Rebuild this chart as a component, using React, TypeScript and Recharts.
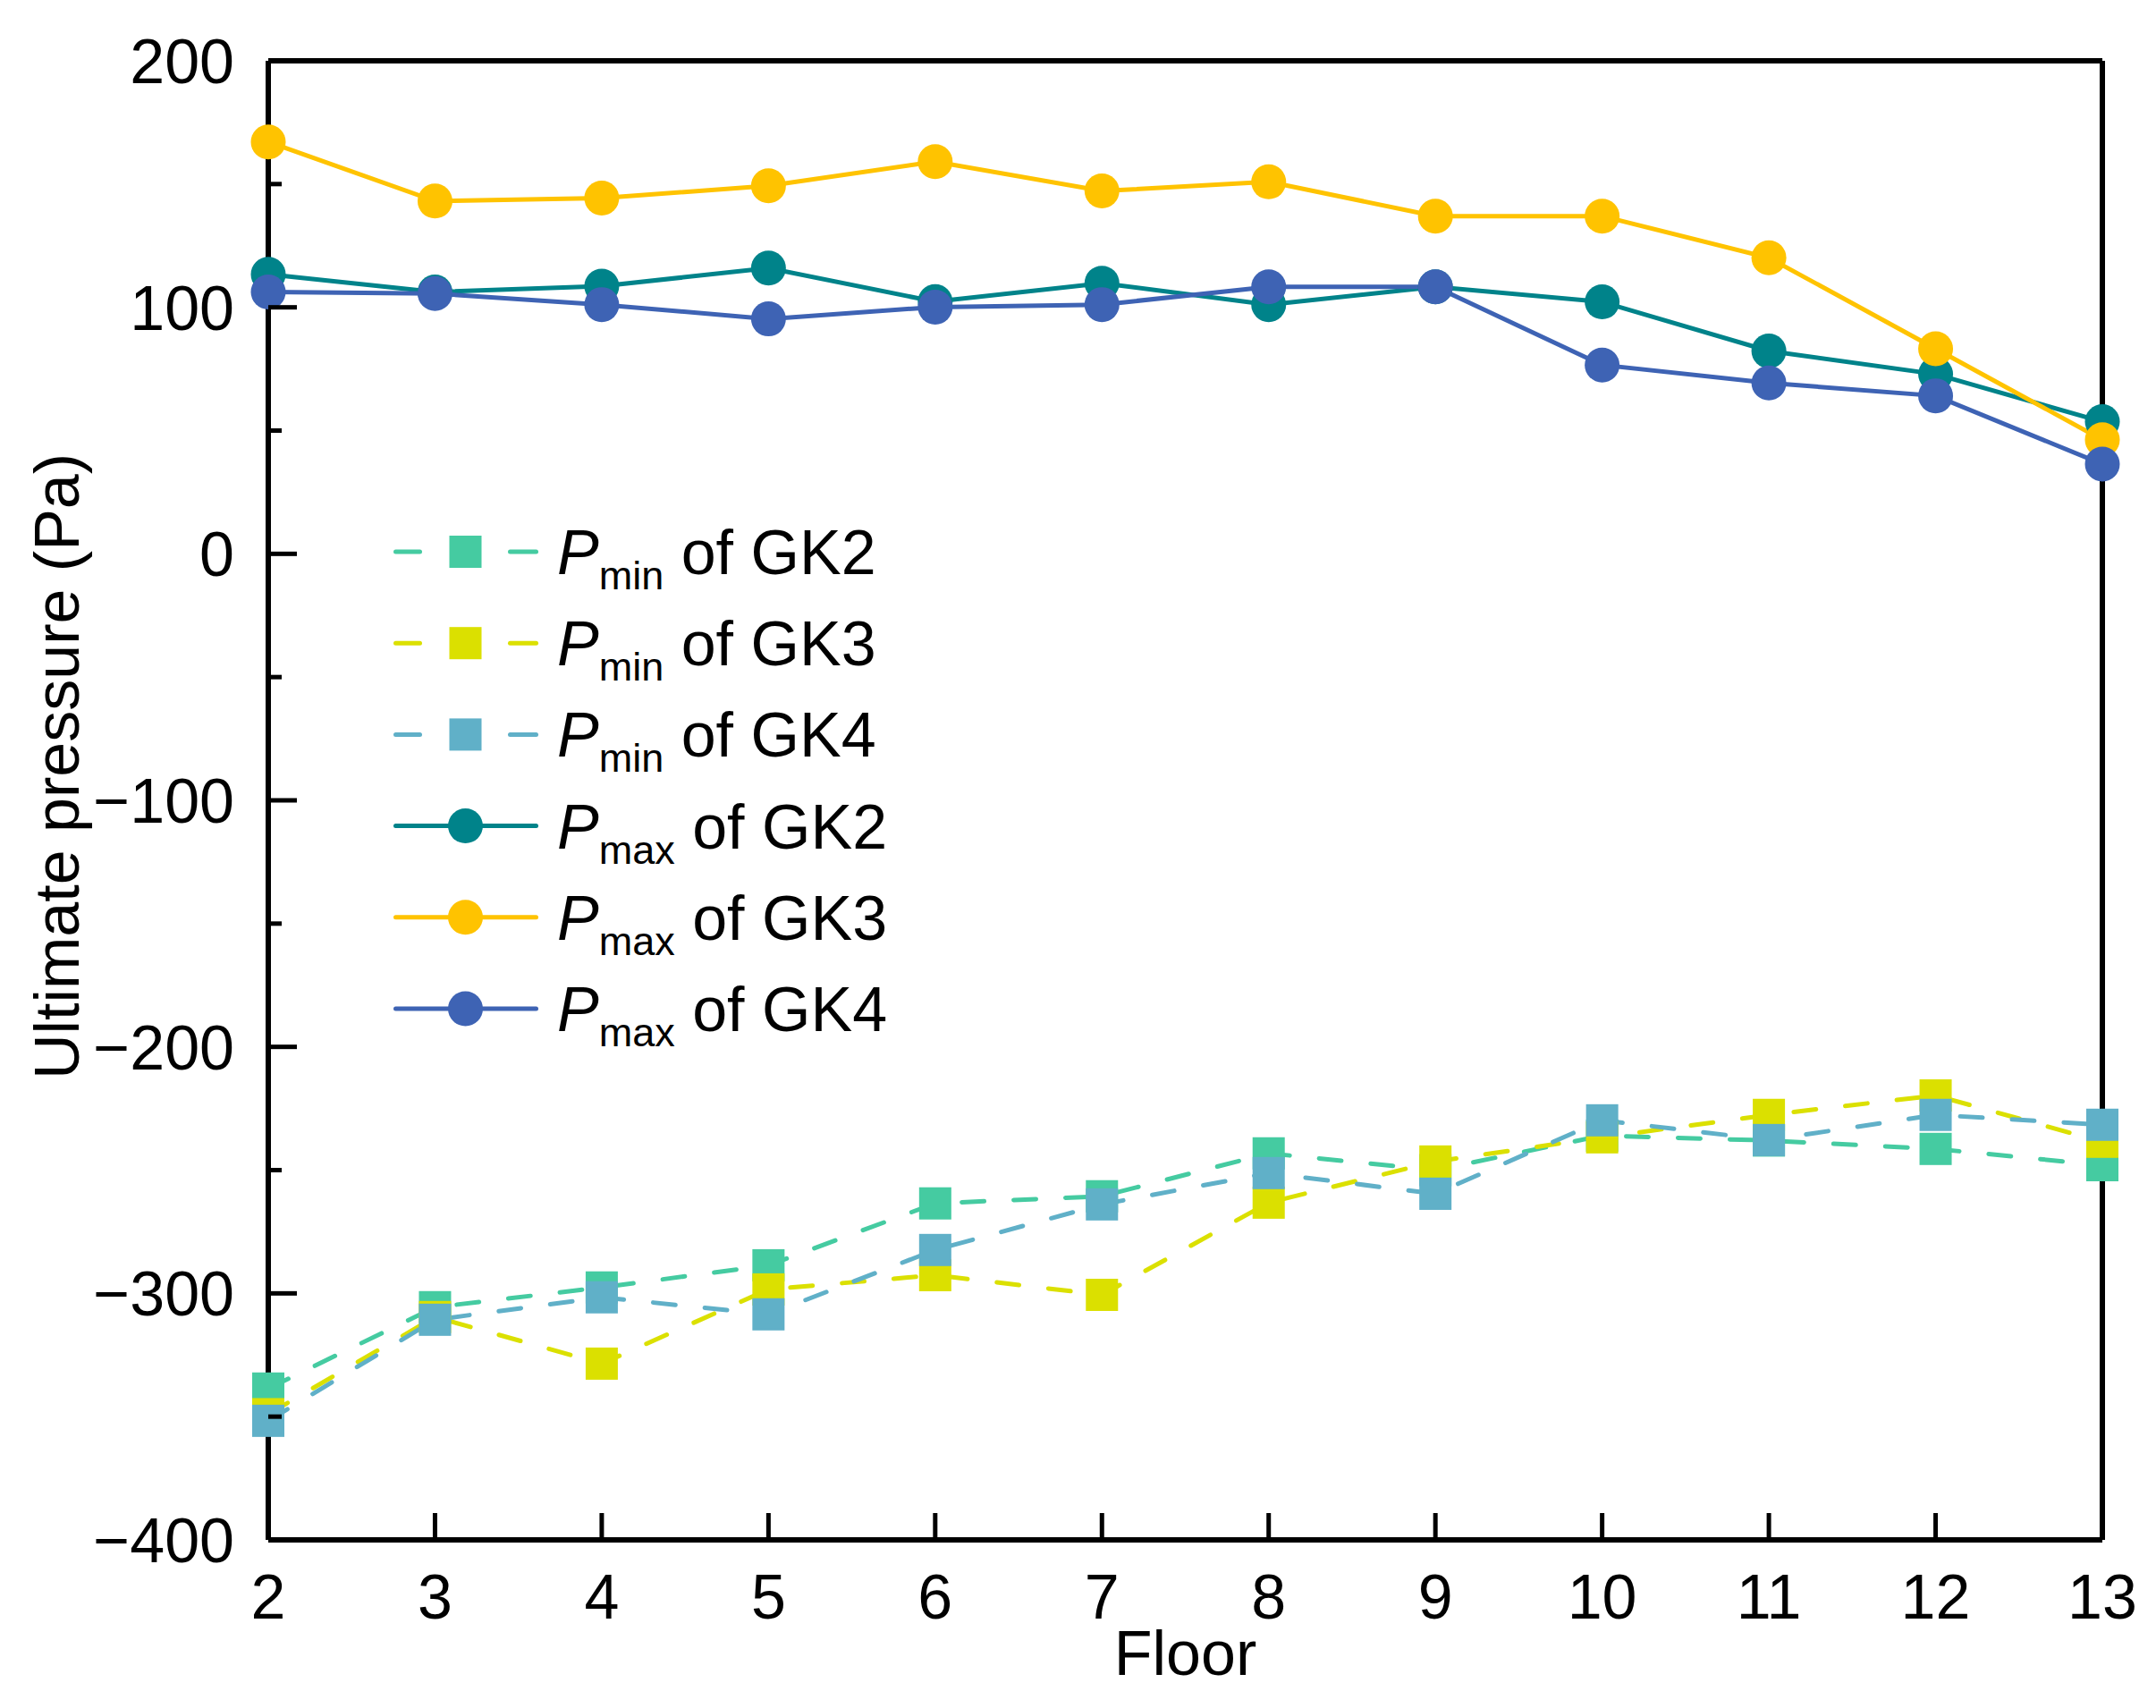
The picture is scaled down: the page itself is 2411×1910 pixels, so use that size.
import { Legend, Line, LineChart, ReferenceLine, XAxis, YAxis } from 'recharts';

const floors = [2, 3, 4, 5, 6, 7, 8, 9, 10, 11, 12, 13];

const pminGK2 = [-338.6, -305.6, -297.6, -288.6, -263.5, -260.6, -243.2, -250, -236, -238, -241.4, -248];
const pminGK3 = [-349, -309.6, -328.5, -298.4, -292.6, -300.6, -263.2, -246.5, -236.7, -227.6, -219.7, -238.5];
const pminGK4 = [-351.7, -310.7, -301.6, -308.5, -282.4, -263.9, -251.2, -259.6, -229.8, -237.8, -227.6, -231.6];
const pmaxGK2 = [113.4, 106.2, 108.6, 115.9, 102.3, 109.8, 101.1, 108.3, 102.2, 82.3, 72.9, 53.6];
const pmaxGK3 = [167.1, 143.1, 144.3, 149.3, 159.1, 147.2, 150.9, 137.0, 137.0, 120.1, 83.2, 46.3];
const pmaxGK4 = [106.2, 105.6, 101.1, 95.3, 100.1, 101.1, 108.3, 108.3, 76.6, 69.3, 64.1, 36.4];

const yTicks = [-400, -350, -300, -250, -200, -150, -100, -50, 0, 50, 100, 150, 200];

const FONT = '"Liberation Sans", Arial, sans-serif';

const data = floors.map((floor, i) => ({
  floor,
  pminGK2: pminGK2[i],
  pminGK3: pminGK3[i],
  pminGK4: pminGK4[i],
  pmaxGK2: pmaxGK2[i],
  pmaxGK3: pmaxGK3[i],
  pmaxGK4: pmaxGK4[i],
}));

const series = [
  { key: 'pminGK2', sub: 'min', group: 'GK2', color: '#45CBA1', dashed: true },
  { key: 'pminGK3', sub: 'min', group: 'GK3', color: '#DBE000', dashed: true },
  { key: 'pminGK4', sub: 'min', group: 'GK4', color: '#60B0C8', dashed: true },
  { key: 'pmaxGK2', sub: 'max', group: 'GK2', color: '#00838A', dashed: false },
  { key: 'pmaxGK3', sub: 'max', group: 'GK3', color: '#FFC300', dashed: false },
  { key: 'pmaxGK4', sub: 'max', group: 'GK4', color: '#3E63B4', dashed: false },
];

const fmt = (v: number) => (v < 0 ? `\u2212${Math.abs(v)}` : `${v}`);

function XTick(props: any) {
  const { x, y, payload } = props;
  return (
    <g>
      <line x1={x} x2={x} y1={y} y2={y - 30} stroke="#000" strokeWidth={5} />
      <text x={x} y={y + 88} textAnchor="middle" fontSize={70} fontFamily={FONT} fill="#000">
        {payload.value}
      </text>
    </g>
  );
}

function YTick(props: any) {
  const { x, y, payload } = props;
  const major = payload.value % 100 === 0;
  return (
    <g>
      <line x1={x} x2={x + (major ? 32 : 15)} y1={y} y2={y} stroke="#000" strokeWidth={5} />
      {major && (
        <text x={x - 38} y={y + 25} textAnchor="end" fontSize={70} fontFamily={FONT} fill="#000">
          {fmt(payload.value)}
        </text>
      )}
    </g>
  );
}

function YTitle(props: any) {
  const vb = props.viewBox || { x: 0, y: 60, width: 292, height: 1654 };
  const cx = vb.x + 55;
  const cy = vb.y + vb.height / 2 - 38;
  return (
    <text
      x={cx}
      y={cy}
      dy="0.36em"
      transform={`rotate(-90 ${cx} ${cy})`}
      textAnchor="middle"
      fontSize={70}
      fontFamily={FONT}
      fill="#000"
    >
      Ultimate pressure (Pa)
    </text>
  );
}

function renderLegend() {
  return (
    <svg width={800} height={620} style={{ overflow: 'visible' }}>
      {series.map((s, i) => {
        const cy = 49 + i * 102.2;
        return (
          <g key={s.key}>
            {s.dashed ? (
              <>
                <line x1={14.5} x2={41.5} y1={cy} y2={cy} stroke={s.color} strokeWidth={5} strokeLinecap="round" />
                <line x1={142.5} x2={171.5} y1={cy} y2={cy} stroke={s.color} strokeWidth={5} strokeLinecap="round" />
                <rect x={74.5} y={cy - 18} width={36} height={36} fill={s.color} />
              </>
            ) : (
              <>
                <line x1={14.5} x2={171.5} y1={cy} y2={cy} stroke={s.color} strokeWidth={5} strokeLinecap="round" />
                <circle cx={92.5} cy={cy} r={19.5} fill={s.color} />
              </>
            )}
            <text x={195} y={cy + 25} fontSize={70} fontFamily={FONT} fill="#000">
              <tspan fontStyle="italic">P</tspan>
              <tspan fontSize={45} dy={17}>{s.sub}</tspan>
              <tspan dy={-17}>{`\u00a0of ${s.group}`}</tspan>
            </text>
          </g>
        );
      })}
    </svg>
  );
}

const squareDot = (color: string) => (props: any) => {
  const { cx, cy, index } = props;
  if (cx == null || cy == null) return <g key={`sq-${index}`} />;
  return <rect key={`sq-${index}`} x={cx - 18} y={cy - 18} width={36} height={36} fill={color} />;
};

const axisLine = { stroke: '#000', strokeWidth: 6 };

export default function App() {
  return (
    <div style={{ width: 2395, height: 1894, background: '#fff' }}>
      <LineChart width={2395} height={1894} data={data} margin={{ top: 60, right: 52, bottom: 0, left: 0 }}>
        <XAxis
          dataKey="floor"
          type="number"
          domain={[2, 13]}
          ticks={floors}
          interval={0}
          height={180}
          tickSize={0}
          tickMargin={0}
          tickLine={false}
          axisLine={axisLine}
          tick={<XTick />}
          label={{ value: 'Floor', position: 'insideBottom', offset: 29, fontSize: 70, fill: '#000', fontFamily: FONT }}
        />
        <YAxis
          type="number"
          domain={[-400, 200]}
          ticks={yTicks}
          interval={0}
          width={292}
          tickSize={0}
          tickMargin={0}
          tickLine={false}
          axisLine={axisLine}
          tick={<YTick />}
          label={(p: any) => <YTitle {...p} />}
        />
        <ReferenceLine y={200} stroke="#000" strokeWidth={6} />
        <ReferenceLine x={13} stroke="#000" strokeWidth={6} />
        <Legend
          content={renderLegend}
          layout="vertical"
          align="center"
          verticalAlign="middle"
          wrapperStyle={{ left: 420, top: 560, width: 800, height: 620 }}
        />
        {series.map((s) =>
          s.dashed ? (
            <Line
              key={s.key}
              type="linear"
              dataKey={s.key}
              stroke={s.color}
              strokeWidth={5}
              strokeDasharray="25 33"
              strokeLinecap="round"
              dot={squareDot(s.color)}
              activeDot={false}
              isAnimationActive={false}
            />
          ) : (
            <Line
              key={s.key}
              type="linear"
              dataKey={s.key}
              stroke={s.color}
              strokeWidth={5}
              dot={{ r: 19.5, fill: s.color, stroke: 'none', strokeWidth: 0 }}
              activeDot={false}
              isAnimationActive={false}
            />
          ),
        )}
      </LineChart>
    </div>
  );
}
